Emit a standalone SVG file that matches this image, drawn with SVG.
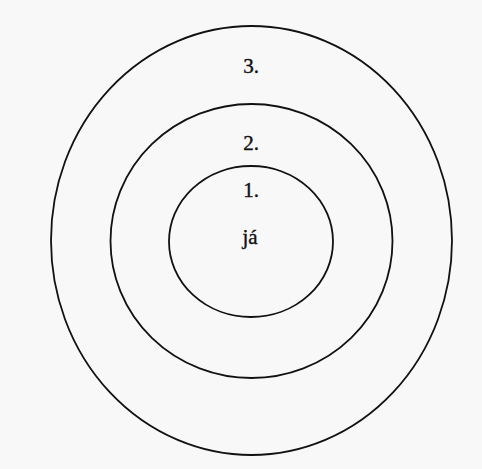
<svg xmlns="http://www.w3.org/2000/svg" width="482" height="469" viewBox="0 0 482 469">
<style>
.ring{fill:none;stroke:#111;stroke-width:1.8}
</style>
<rect width="482" height="469" fill="#f8f8f8"/>
<g id="ring3"><ellipse class="ring" cx="251.5" cy="240.5" rx="200.5" ry="214.5"/><text x="251" y="73" font-family="'Liberation Serif', serif" font-size="21" fill="#111" stroke="#111" stroke-width="0.4" text-anchor="middle">3.</text></g>
<g id="ring2"><ellipse class="ring" cx="251.5" cy="241" rx="141" ry="137"/><text x="251" y="150" font-family="'Liberation Serif', serif" font-size="21" fill="#111" stroke="#111" stroke-width="0.4" text-anchor="middle">2.</text></g>
<g id="ring1"><ellipse class="ring" cx="251" cy="241.5" rx="82" ry="75.5"/><text x="251" y="197" font-family="'Liberation Serif', serif" font-size="21" fill="#111" stroke="#111" stroke-width="0.4" text-anchor="middle">1.</text><text x="250" y="244" font-family="'Liberation Serif', serif" font-size="21" fill="#111" stroke="#111" stroke-width="0.4" text-anchor="middle">já</text></g>
<g id="connectors"/>
</svg>
